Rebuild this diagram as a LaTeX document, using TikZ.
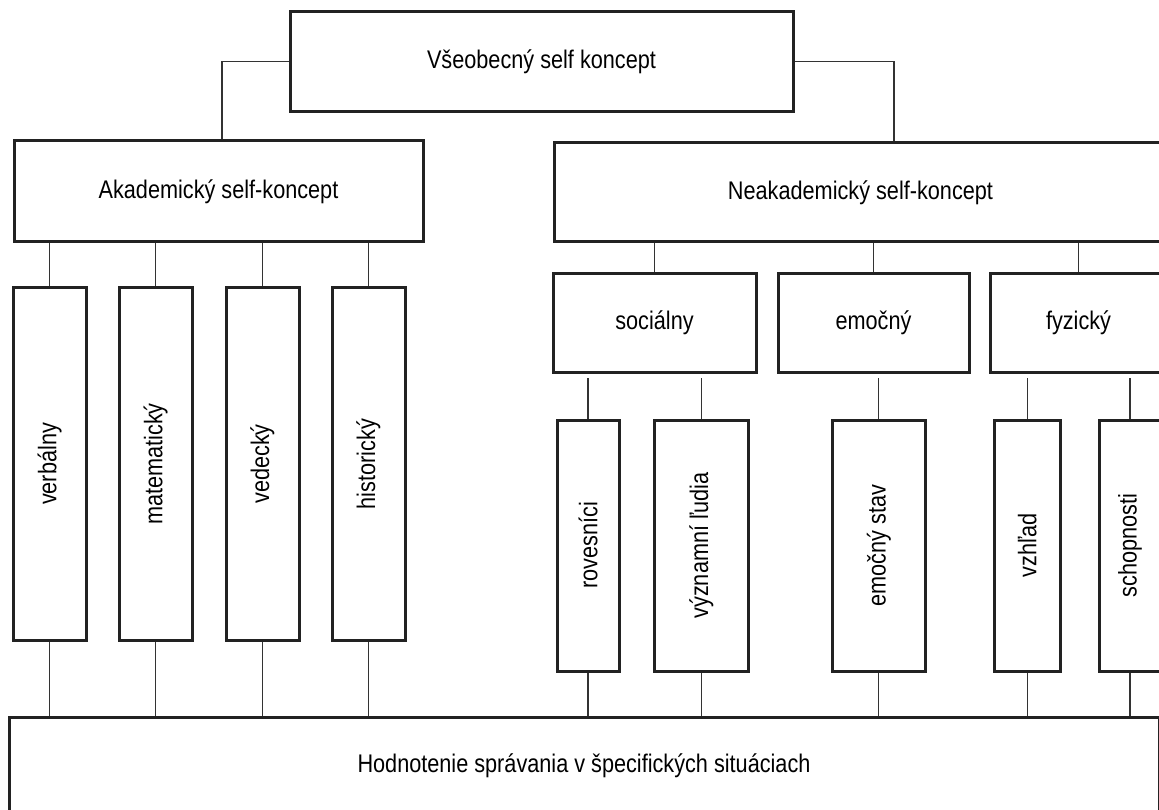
\documentclass[tikz,border=0pt]{standalone}
\usepackage{fontspec}
\setmainfont{Liberation Sans}[FakeStretch=0.85]
\usepackage{graphicx}
\definecolor{boxline}{HTML}{222222}
\definecolor{linkline}{HTML}{333333}
\begin{document}
\begin{tikzpicture}[x=1pt,y=-1pt,
  font=\fontsize{25.5}{30}\selectfont,
  box/.style={draw=boxline, line width=3pt, fill=white, inner sep=0pt,
              minimum width=#1, align=center},
  link/.style={draw=linkline, line width=1.1pt},
  vbox/.style={box=#1, minimum height=352pt},
  leaf/.style={box=#1, minimum height=251pt},
  midbox/.style={box=#1, minimum height=99pt}]
\useasboundingbox (0,0) rectangle (1159,810);
\clip (0,0) rectangle (1159,810);

% top level
\node[box=503pt, minimum height=99.5pt] (top) at (541.5,61.75) {Všeobecný self koncept};

% second level
\node[box=409pt, minimum height=101pt] (akad) at (218.5,191.5) {Akademický self-koncept};
\node[box=613pt, minimum height=99pt] (neak) at (860.5,192.5) {Neakademický self-koncept};

% academic areas
\node[vbox=73pt] (verb) at (49.75,464) {\rotatebox{90}{verbálny}};
\node[vbox=73pt] (mat)  at (155.7,464) {\rotatebox{90}{matematický}};
\node[vbox=73pt] (ved)  at (262.5,464) {\rotatebox{90}{vedecký}};
\node[vbox=73pt] (hist) at (368.5,464) {\rotatebox{90}{historický}};

% non-academic areas
\node[midbox=203pt] (soc) at (654.5,323) {sociálny};
\node[midbox=191pt] (emo) at (873.5,323) {emočný};
\node[midbox=177pt] (fyz) at (1078.5,323) {fyzický};

% sub-areas
\node[leaf=62pt]   (rov)  at (588,545.5)    {\rotatebox{90}{rovesníci}};
\node[leaf=93.5pt] (vyz)  at (701.25,545.5) {\rotatebox{90}{významní ľudia}};
\node[leaf=93.5pt] (stav) at (878.75,545.5) {\rotatebox{90}{emočný stav}};
\node[leaf=66.5pt] (vzh)  at (1027.25,545.5){\rotatebox{90}{vzhľad}};
\node[leaf=62pt]   (schop) at (1130,545.5)  {\rotatebox{90}{schopnosti}};

% behaviour in specific situations
\node[box=1150pt, minimum height=105pt] (hod) at (584,769.5)
  {\raisebox{12pt}{Hodnotenie správania v špecifických situáciach}};

% connectors from the top
\draw[link] (top.west) -| (akad.north -| 222,0);
\draw[link] (top.east) -| (neak.north -| 894,0);

% academic branch
\foreach \n in {verb,mat,ved,hist}{
  \draw[link] (akad.south -| \n.north) -- (\n.north);
  \draw[link] (\n.south) -- (hod.north -| \n.south);
}

% non-academic branch
\foreach \n in {soc,emo,fyz}{
  \draw[link] (neak.south -| \n.north) -- (\n.north);
}
\foreach \n/\p in {rov/soc,vyz/soc,stav/emo,vzh/fyz,schop/fyz}{
  \draw[link, shorten >=3.5pt] (\n.north) -- (\p.south -| \n.north);
  \draw[link] (\n.south) -- (hod.north -| \n.south);
}
\end{tikzpicture}
\end{document}
